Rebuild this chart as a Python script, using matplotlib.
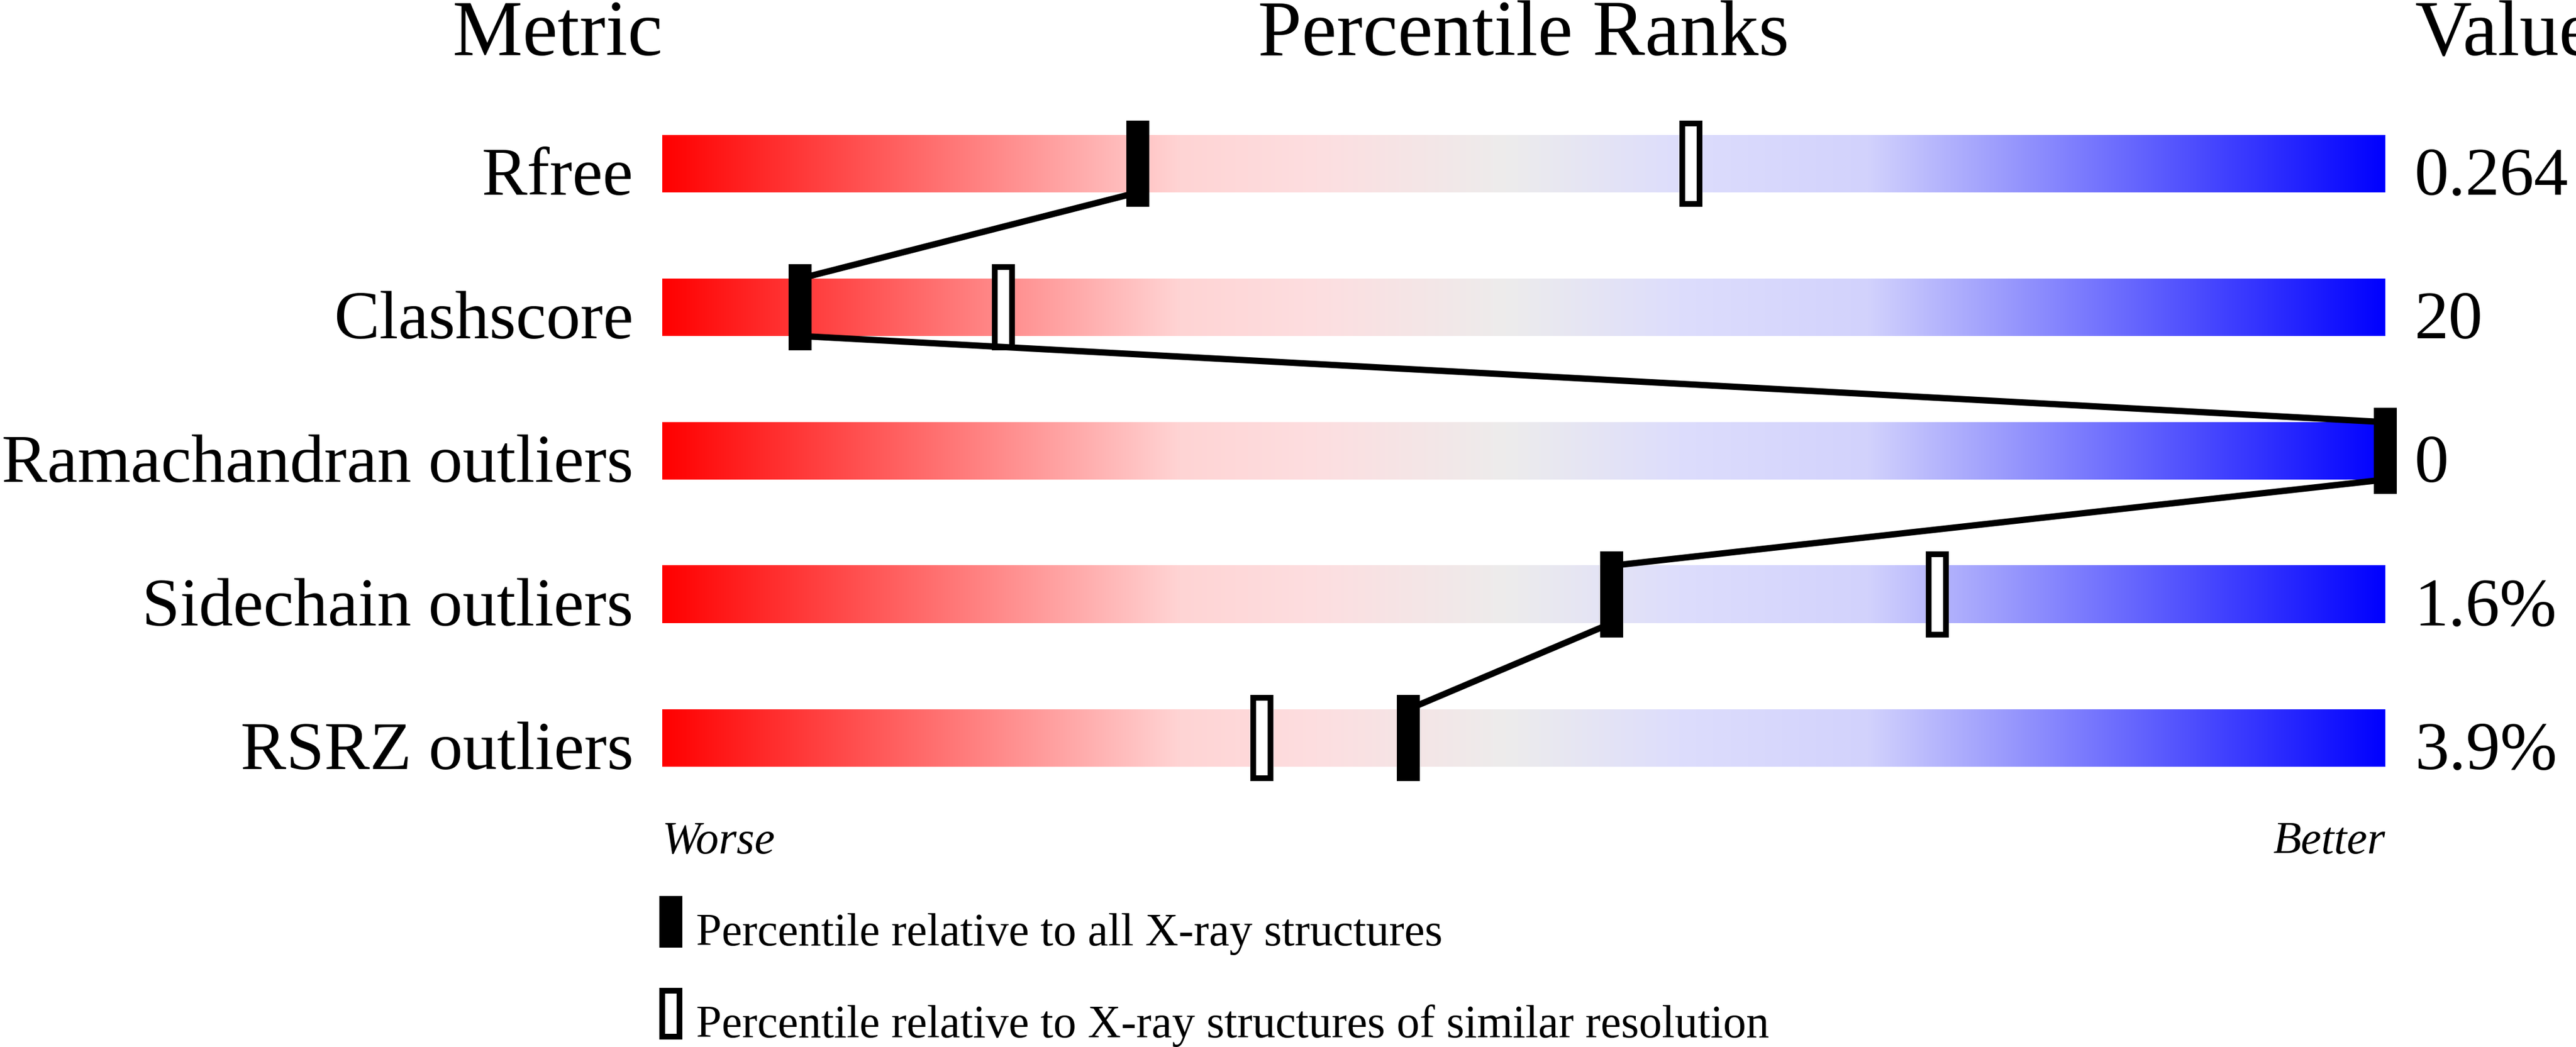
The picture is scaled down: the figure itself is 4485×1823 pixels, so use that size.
import numpy as np
import matplotlib
matplotlib.use("Agg")
import matplotlib.pyplot as plt
from matplotlib.colors import LinearSegmentedColormap
from matplotlib.patches import Rectangle

# ---------------- data ----------------
metrics = ["Rfree", "Clashscore", "Ramachandran outliers", "Sidechain outliers", "RSRZ outliers"]
values = ["0.264", "20", "0", "1.6%", "3.9%"]
pct_all = [27.6, 8.0, 100.0, 55.1, 43.3]        # percentile relative to all X-ray structures
pct_similar = [59.7, 19.8, 100.0, 74.0, 34.8]   # percentile relative to similar resolution
headers = ["Metric", "Percentile Ranks", "Value"]
end_labels = ["Worse", "Better"]
legend_labels = ["Percentile relative to all X-ray structures",
                 "Percentile relative to X-ray structures of similar resolution"]

# ---------------- style ----------------
W, H, DPI = 4485, 1824, 100
FONT = ["Liberation Serif", "DejaVu Serif"]
plt.rcParams["font.family"] = FONT
px = 72.0 / DPI  # points per pixel

grad_stops = [
    (0.00, (255, 0, 0)),
    (0.30, (255, 212, 212)),
    (0.38, (253, 222, 224)),
    (0.49, (237, 236, 236)),
    (0.59, (221, 221, 252)),
    (0.70, (210, 210, 252)),
    (1.00, (0, 0, 255)),
]
cmap = LinearSegmentedColormap.from_list(
    "slider", [(p, tuple(c / 255 for c in rgb)) for p, rgb in grad_stops], N=1024)

fig = plt.figure(figsize=(W / DPI, H / DPI), dpi=DPI)
fig.patch.set_facecolor("white")

bar_left_px, bar_width_px = 1153, 3000
row0_px, row_step_px = 286, 250
ax = fig.add_axes([bar_left_px / W, 0, bar_width_px / W, 1])
ytop = -row0_px / row_step_px
ybot = (H - row0_px) / row_step_px

bar_half = 0.2
mark_half = 0.28
mark_w = 1.0
lw_px = 10
line_px = 11

grad = np.linspace(0, 1, 1024).reshape(1, -1)
n = len(metrics)
for i in range(n):
    ax.imshow(grad, cmap=cmap, aspect="auto", interpolation="bilinear",
              extent=(0, 100, i + bar_half, i - bar_half), zorder=1)

# open markers (similar resolution)
for i, p in enumerate(pct_similar):
    ax.add_patch(Rectangle((p - mark_w / 2, i - mark_half), mark_w, 2 * mark_half,
                           facecolor="white", edgecolor="black", lw=lw_px * px,
                           joinstyle="miter", zorder=3, clip_on=False))

# connecting lines
for i in range(n - 1):
    ax.plot([pct_all[i], pct_all[i + 1]], [i + bar_half, i + 1 - bar_half],
            color="black", lw=line_px * px, solid_capstyle="butt", zorder=4, clip_on=False)

# filled markers (all structures)
for i, p in enumerate(pct_all):
    ax.add_patch(Rectangle((p - mark_w / 2, i - mark_half), mark_w, 2 * mark_half,
                           facecolor="black", edgecolor="black", lw=lw_px * px,
                           joinstyle="miter", zorder=5, clip_on=False))

label_fs = 119 * px
head_fs = 137 * px
small_fs = 80 * px

for i in range(n):
    ax.text(-1.67, i + bar_half + 0.012, metrics[i], ha="right", va="baseline",
            fontsize=label_fs, family=FONT)
    ax.text(101.7, i + bar_half + 0.012, values[i], ha="left", va="baseline",
            fontsize=label_fs, family=FONT)

head_y = -0.76
ax.text(0, head_y, headers[0], ha="right", va="baseline", fontsize=head_fs, family=FONT)
ax.text(50, head_y, headers[1], ha="center", va="baseline", fontsize=head_fs, family=FONT)
ax.text(101.7, head_y, headers[2], ha="left", va="baseline", fontsize=head_fs, family=FONT)

we_y = n - 1 + 0.80
ax.text(0, we_y, end_labels[0], ha="left", va="baseline", fontsize=small_fs,
        family=FONT, style="italic")
ax.text(100, we_y, end_labels[1], ha="right", va="baseline", fontsize=small_fs,
        family=FONT, style="italic")

# legend
leg_rows = [(5.10, 5.44, "black"), (5.74, 6.08, "white")]
for (top, base, face), lab in zip(leg_rows, legend_labels):
    ax.add_patch(Rectangle((0.0, top + 0.02), mark_w, 0.32, facecolor=face,
                           edgecolor="black", lw=lw_px * px, joinstyle="miter",
                           zorder=5, clip_on=False))
    ax.text(1.97, base, lab, ha="left", va="baseline", fontsize=small_fs, family=FONT)

ax.set_xlim(0, 100)
ax.set_ylim(ybot, ytop)
ax.axis("off")

fig.savefig("out.png", dpi=DPI, facecolor="white")
